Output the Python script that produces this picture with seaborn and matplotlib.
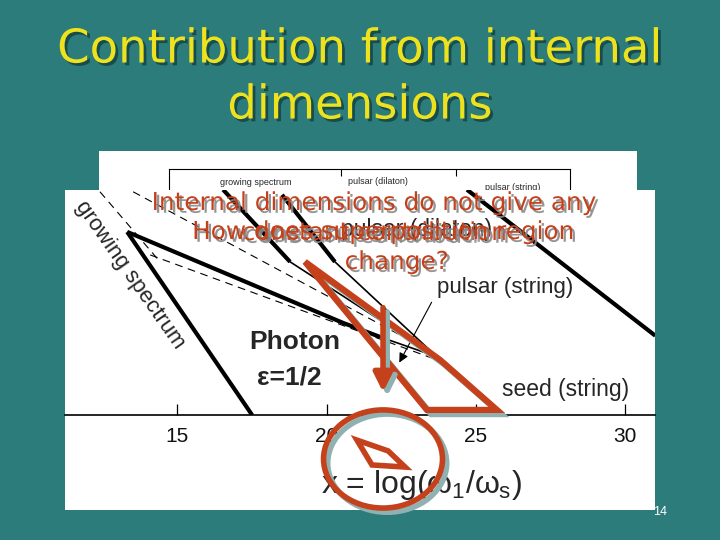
import matplotlib
matplotlib.use("Agg")
import matplotlib.pyplot as plt
import matplotlib.patheffects as pe
from matplotlib.patches import Rectangle, Ellipse, Polygon
import numpy as np
import pandas as pd
import seaborn as sns

sns.set_style("white")
plt.rcParams['font.family'] = ['Liberation Sans', 'DejaVu Sans']
plt.rcParams['mathtext.fontset'] = 'custom'
plt.rcParams['mathtext.rm'] = 'Liberation Sans'
plt.rcParams['mathtext.it'] = 'Liberation Sans'

# ---------------- data ----------------
title_lines = ["Contribution from internal", "dimensions"]
tick_values = [15, 20, 25, 30]
tick_labels = ["15", "20", "25", "30"]
x_range = [11.25, 30.99]
y_range = [0.0, 7.52]

# thick boundary lines
growing_x = [13.33, 17.51]
growing_y = [6.12, 0.0]
photon_x = [13.33, 20.55, 21.79]
photon_y = [6.12, 3.08, 2.61]
dilaton_a_x = [16.54, 18.78]
dilaton_a_y = [7.53, 5.12]
dilaton_b_x = [18.51, 20.28]
dilaton_b_y = [7.36, 5.12]
string_x = [24.70, 31.00]
string_y = [7.53, 2.65]
seed_x = [23.70, 25.90]
seed_y = [1.94, 0.0]
# thin continuations
photon_tail_x = [21.79, 23.80]
photon_tail_y = [2.61, 1.91]
dilaton_a_tail_x = [18.78, 23.70]
dilaton_a_tail_y = [5.12, 1.94]
dilaton_b_tail_x = [20.28, 23.70]
dilaton_b_tail_y = [5.12, 1.94]
# dashed lines
dash1_x = [13.53, 23.70]
dash1_y = [7.46, 2.01]
dash2_x = [14.10, 23.70]
dash2_y = [5.35, 1.84]
dash3_x = [12.42, 14.43]
dash3_y = [7.46, 5.12]
# pointer from "pulsar (string)"
pointer_from = (23.56, 3.85)
pointer_to = (22.39, 1.67)

# red annotations
region_x = [19.28, 23.80, 25.70, 23.36]
region_y = [5.12, 1.84, 0.17, 0.17]
arrow_x = 21.89
arrow_y = [3.68, 0.67]
circle_center = (21.89, -1.47)
circle_size = (3.98, 3.28)
small_x = [21.02, 22.06, 22.63, 21.52]
small_y = [-0.84, -1.20, -1.74, -1.67]

red_text_1 = "Internal dimensions do not give any"
red_text_2 = "constant contribution"
red_text_3 = "How does superposition region"
red_text_4 = "change?"

BG = '#2c7c7b'
RED = '#c4411c'
YELLOW = '#eee21e'
SHADOW = '#8fb1b1'

W, H = 720, 540
fig = plt.figure(figsize=(7.2, 5.4), dpi=100, facecolor=BG)


def fbox(x0, y0, x1, y1):
    return [x0 / W, 1 - y1 / H, (x1 - x0) / W, (y1 - y0) / H]


# title
fig.text(360 / W, 1 - 50 / H, title_lines[0], ha='center', va='center',
         fontsize=33.5, color=YELLOW, family='DejaVu Sans', zorder=6,
         path_effects=[pe.withSimplePatchShadow(offset=(2, -2), shadow_rgbFace='#14403f', alpha=0.8)])
fig.text(360 / W, 1 - 106 / H, title_lines[1], ha='center', va='center',
         fontsize=33.5, color=YELLOW, family='DejaVu Sans', zorder=6,
         path_effects=[pe.withSimplePatchShadow(offset=(2, -2), shadow_rgbFace='#14403f', alpha=0.8)])

# back picture
b = fbox(99, 151, 637, 320)
fig.patches.append(Rectangle((b[0], b[1]), b[2], b[3], transform=fig.transFigure,
                             facecolor='white', edgecolor='none', zorder=0.5))
axb = fig.add_axes(fbox(169, 169, 570, 400), zorder=1)
axb.set_facecolor('none')
axb.set_xlim(12.5, 29.96)
axb.set_ylim(0, 1)
axb.set_xticks([20, 25])
axb.set_yticks([])
axb.tick_params(axis='x', top=True, bottom=False, labeltop=False, labelbottom=False,
                direction='in', length=5, width=0.8, color='black')
for s in axb.spines.values():
    s.set_color('black')
    s.set_linewidth(0.8)
axb.text(0.216, 0.94, "growing spectrum", transform=axb.transAxes, ha='center', va='center', fontsize=6.5)
axb.text(0.52, 0.945, "pulsar (dilaton)", transform=axb.transAxes, ha='center', va='center', fontsize=6.5)
axb.text(0.858, 0.92, "pulsar (string)", transform=axb.transAxes, ha='center', va='center', fontsize=6.5)

# front picture
f = fbox(65, 190, 655, 510)
fig.patches.append(Rectangle((f[0], f[1]), f[2], f[3], transform=fig.transFigure,
                             facecolor='white', edgecolor='none', zorder=2))
ax = fig.add_axes(fbox(65, 190, 655, 415), zorder=3)
ax.set_facecolor('none')
ax.set_xlim(*x_range)
ax.set_ylim(*y_range)
for k in ['top', 'left', 'right']:
    ax.spines[k].set_visible(False)
ax.spines['bottom'].set_color('black')
ax.spines['bottom'].set_linewidth(1.2)
ax.set_yticks([])
ax.set_xticks(tick_values)
ax.set_xticklabels(tick_labels)
ax.tick_params(axis='x', direction='in', length=8, width=0.9, color='black',
               pad=9, labelsize=15, labelcolor='#111111', bottom=True)

thick = pd.concat([
    pd.DataFrame({'x': growing_x, 'y': growing_y, 'id': 'growing'}),
    pd.DataFrame({'x': photon_x, 'y': photon_y, 'id': 'photon'}),
    pd.DataFrame({'x': dilaton_a_x, 'y': dilaton_a_y, 'id': 'dil_a'}),
    pd.DataFrame({'x': dilaton_b_x, 'y': dilaton_b_y, 'id': 'dil_b'}),
    pd.DataFrame({'x': string_x, 'y': string_y, 'id': 'string'}),
    pd.DataFrame({'x': seed_x, 'y': seed_y, 'id': 'seed'}),
])
thin = pd.concat([
    pd.DataFrame({'x': photon_tail_x, 'y': photon_tail_y, 'id': 'pt'}),
    pd.DataFrame({'x': dilaton_a_tail_x, 'y': dilaton_a_tail_y, 'id': 'dat'}),
    pd.DataFrame({'x': dilaton_b_tail_x, 'y': dilaton_b_tail_y, 'id': 'dbt'}),
])
dashed = pd.concat([
    pd.DataFrame({'x': dash1_x, 'y': dash1_y, 'id': 'd1'}),
    pd.DataFrame({'x': dash2_x, 'y': dash2_y, 'id': 'd2'}),
    pd.DataFrame({'x': dash3_x, 'y': dash3_y, 'id': 'd3'}),
])
sns.lineplot(data=thick, x='x', y='y', units='id', estimator=None, sort=False,
             color='black', lw=3.0, ax=ax, solid_capstyle='butt')
sns.lineplot(data=thin, x='x', y='y', units='id', estimator=None, sort=False,
             color='black', lw=1.2, ax=ax)
sns.lineplot(data=dashed, x='x', y='y', units='id', estimator=None, sort=False,
             color='black', lw=0.8, ax=ax, dashes=False, linestyle=(0, (7, 5)))
ax.set_xlabel('')
ax.set_ylabel('')

ax.annotate('', xy=pointer_to, xytext=pointer_from,
            arrowprops=dict(arrowstyle='-|>', color='black', lw=0.8, mutation_scale=14))

ax.text(13.43, 4.68, "growing spectrum", rotation=-55, rotation_mode='anchor',
        ha='center', va='center', fontsize=16)
ax.text(23.0, 6.19, "pulsar (dilaton)", ha='center', va='center', fontsize=16.5)
ax.text(25.97, 4.25, "pulsar (string)", ha='center', va='center', fontsize=16)
ax.text(18.95, 2.44, "Photon", ha='center', va='center', fontsize=19, fontweight='bold')
ax.text(18.75, 1.27, "ε=1/2", ha='center', va='center', fontsize=19, fontweight='bold')
ax.text(28.01, 0.84, "seed (string)", ha='center', va='center', fontsize=16.5)
ax.text(23.19, -2.34, r"x = log($\omega_1$/$\omega_s$)", ha='center', va='center',
        fontsize=23, clip_on=False)

# red overlays
shadow_line = [pe.SimpleLineShadow(offset=(3, -3), shadow_color=SHADOW, alpha=1), pe.Normal()]
poly = Polygon(np.column_stack([region_x, region_y]), closed=True, fill=False,
               edgecolor=RED, lw=4.5, joinstyle='miter', clip_on=False, zorder=10,
               path_effects=shadow_line)
ax.add_patch(poly)
ax.annotate('', xy=(arrow_x, arrow_y[1]), xytext=(arrow_x, arrow_y[0]),
            arrowprops=dict(arrowstyle='-|>', color=RED, lw=4, mutation_scale=28,
                            path_effects=shadow_line), zorder=11, annotation_clip=False)
ell = Ellipse(circle_center, circle_size[0], circle_size[1], fill=False, edgecolor=RED,
              lw=4, clip_on=False, zorder=10, path_effects=shadow_line)
ax.add_patch(ell)
small = Polygon(np.column_stack([small_x, small_y]), closed=True, fill=False,
                edgecolor=RED, lw=4, joinstyle='miter', clip_on=False, zorder=10)
ax.add_patch(small)

tshadow = [pe.withSimplePatchShadow(offset=(2, -2), shadow_rgbFace='#8a8a8a', alpha=0.9)]
for txt, (px, py) in [(red_text_1, (375, 203)), (red_text_2, (375, 233)),
                      (red_text_3, (384, 232)), (red_text_4, (397, 262))]:
    fig.text(px / W, 1 - py / H, txt, ha='center', va='center', fontsize=17.8,
             color=RED, family='DejaVu Sans', zorder=12, path_effects=tshadow)

fig.text(660 / W, 1 - 512 / H, "14", ha='center', va='center', fontsize=9,
         color='white', zorder=6)

fig.savefig("out.png", dpi=100, facecolor=BG)
